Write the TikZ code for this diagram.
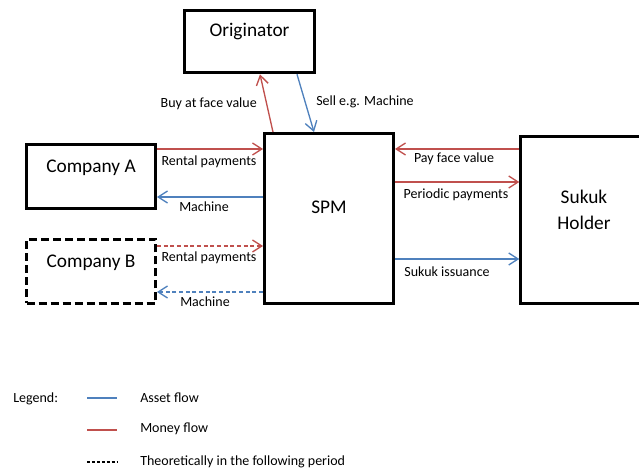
\documentclass[tikz,border=0pt]{standalone}
\usepackage{fontspec}
\setmainfont{Carlito}
\usepackage{xcolor}
\definecolor{flowAsset}{HTML}{4F81BD}
\definecolor{flowMoney}{HTML}{C0504D}
\usetikzlibrary{arrows.meta}

\begin{document}
\begin{tikzpicture}[x=0.75pt, y=-0.75pt,
  box/.style={draw, line width=2.2pt, inner sep=0pt},
  boxtext/.style={font=\fontsize{14.5}{20}\selectfont, align=center, inner sep=0pt},
  flowtext/.style={font=\fontsize{10.5}{12}\selectfont, inner sep=0pt},
  asset/.style={draw=flowAsset, line width=1pt, -{Straight Barb[length=7pt,width=9pt]}},
  money/.style={draw=flowMoney, line width=1pt, -{Straight Barb[length=7pt,width=9pt]}},
  later/.style={dash pattern=on 3pt off 2pt}]
  \useasboundingbox (0,0) rectangle (639,470);

  % boxes
  \node[box, minimum width=97.5pt, minimum height=47pt] (orig) at (249.5,41.5) {};
  \node[box, minimum width=96.75pt, minimum height=127.5pt] (spm) at (329,218.5) {};
  \node[box, minimum width=93pt, minimum height=125.25pt] (holder) at (582.75,220) {};
  \node[box, minimum width=96.75pt, minimum height=48pt] (compA) at (91,176.5) {};
  \node[box, minimum width=96.75pt, minimum height=48pt, dash pattern=on 6pt off 3pt] (compB) at (91,271.5) {};

  \node[boxtext] (origtxt) at (249.5,32) {Originator};
  \node[boxtext] (spmtxt) at (329,207) {SPM};
  \node[boxtext] (holdertxt) at (584,210) {Sukuk\\Holder};
  \node[boxtext] (compAtxt) at (91,168) {Company A};
  \node[boxtext] (compBtxt) at (91,263) {Company B};

  % originator flows
  \draw[money] (spm.north -| 273,0) -- (orig.south -| 260,0);
  \draw[asset] (orig.south -| 297,0) -- (spm.north -| 314,0);
  \node[flowtext, anchor=east] (buylbl) at (257,104) {Buy at face value};
  \node[flowtext, anchor=west] (selllbl) at (316,102) {Sell e.g. Machine};

  % company flows
  \draw[money] (compA.east |- 0,149) -- (spm.west |- 0,149);
  \draw[asset] (spm.west |- 0,197) -- (compA.east |- 0,197);
  \draw[money, later] (compB.east |- 0,246) -- (spm.west |- 0,246);
  \draw[asset, later] (spm.west |- 0,292) -- (compB.east |- 0,292);
  \node[flowtext] (rentAlbl) at (209,162) {Rental payments};
  \node[flowtext] (machAlbl) at (204,207) {Machine};
  \node[flowtext] (rentBlbl) at (209,258) {Rental payments};
  \node[flowtext] (machBlbl) at (205,302) {Machine};

  % sukuk flows
  \draw[money] (holder.west |- 0,149) -- (spm.east |- 0,149);
  \draw[money] (spm.east |- 0,182) -- (holder.west |- 0,182);
  \draw[asset] (spm.east |- 0,259) -- (holder.west |- 0,259);
  \node[flowtext] (paylbl) at (454,159) {Pay face value};
  \node[flowtext] (perlbl) at (456,195) {Periodic payments};
  \node[flowtext] (isslbl) at (447,272) {Sukuk issuance};

  % legend
  \node[flowtext, anchor=west] (legend) at (13,399) {Legend:};
  \coordinate (assetA) at (87,398);
  \coordinate (assetB) at (117,398);
  \coordinate (moneyA) at (87,430);
  \coordinate (moneyB) at (117,430);
  \coordinate (laterA) at (87,462);
  \coordinate (laterB) at (117,462);
  \draw[flowAsset, line width=1pt] (assetA) -- (assetB);
  \draw[flowMoney, line width=1pt] (moneyA) -- (moneyB);
  \draw[black, line width=1pt, dash pattern=on 2.5pt off 1.2pt] (laterA) -- (laterB);
  \node[flowtext, anchor=west] (assetlbl) at (140,398) {Asset flow};
  \node[flowtext, anchor=west] (moneylbl) at (140,429) {Money flow};
  \node[flowtext, anchor=west] (laterlbl) at (140,462) {Theoretically in the following period};
\end{tikzpicture}
\end{document}
